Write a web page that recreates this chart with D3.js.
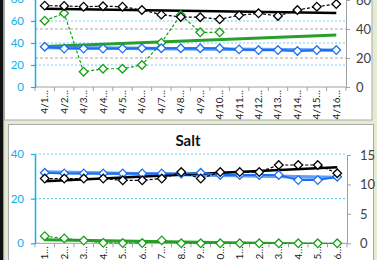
<!DOCTYPE html>
<html><head><meta charset="utf-8">
<script src="https://cdn.jsdelivr.net/npm/d3@7"></script>
<style>html,body{margin:0;padding:0;background:#e3ecd2;overflow:hidden}svg{display:block}</style>
</head><body><svg id="c" width="377" height="260"></svg>
<script>
// ---------- data ----------
const categories = ["4/1","4/2","4/3","4/4","4/5","4/6","4/7","4/8","4/9","4/10","4/11","4/12","4/13","4/14","4/15","4/16"];
const categoryLabels = ["4/1…","4/2…","4/3…","4/4…","4/5…","4/6…","4/7…","4/8…","4/9…","4/10…","4/11…","4/12…","4/13…","4/14…","4/15…","4/16…"];

// top chart (title cut off)
const topBlue  = [36.6,34.9,34.9,34.9,34.9,35.2,35.2,35.2,35.2,35.2,34.2,33.6,33.6,32.7,33.6,33.6]; // left axis
const topGreen = [60.3,67.0,13.9,16.6,16.6,20.0,40.3,65.5,49.7,49.7];                                 // left axis
const topBlack = [56.1,55.9,55.4,55.7,55.4,53.1,49.9,48.3,48.1,46.7,49.4,50.8,49.0,53.1,55.4,57.2];  // right axis
const topLeftTicks  = [0,20,40,60,80];
const topRightTicks = [0,20,40,60];

// bottom chart "Salt"
const saltTitle = "Salt";
const saltBlue  = [31.6,31.3,31.3,31.3,31.3,31.3,31.3,31.3,31.6,30.6,30.6,30.6,30.6,28.3,28.3,29.8]; // left axis
const saltBlack = [11.0,11.0,11.0,11.0,10.7,10.7,11.0,12.1,11.0,12.1,12.1,12.1,13.3,13.3,13.3,11.9]; // right axis
const saltGreen = [3.2,2.2,1.2,0.2,0.1,0.1,1.3,0,0,0,0,0,0,0,0,0];                                   // left axis
const saltLeftTicks  = [0,20,40];
const saltRightTicks = [0,5,10,15];

// ---------- style ----------
const FONT = "Lato, 'Open Sans', sans-serif";
const AXIS_BLUE = "#12aef0";
const GRID_BLUE = "#6ccdf5";
const BLUE = "#1b6ff2";
const GREEN = "#14a014";
const BLACK = "#000";

const svg = d3.select("#c");
svg.append("rect").attr("width",377).attr("height",260).attr("fill","#e3ecd2");
svg.append("rect").attr("x",0).attr("y",0).attr("width",3).attr("height",260).attr("fill","#111");
svg.append("rect").attr("x",3).attr("y",0).attr("width",1.2).attr("height",260).attr("fill","#9a9a9a");
// panels
svg.append("rect").attr("x",4.5).attr("y",-3).attr("width",367.5).attr("height",123)
  .attr("fill","#fff").attr("stroke","#a9a9a9").attr("stroke-width",1);
svg.append("rect").attr("x",8.5).attr("y",124.5).attr("width",365).attr("height",140)
  .attr("fill","#fff").attr("stroke","#a9a9a9").attr("stroke-width",1);

function linreg(vals){
  const n = vals.length, mx = (n-1)/2, my = d3.mean(vals);
  let sxy=0,sxx=0;
  vals.forEach((v,i)=>{sxy+=(i-mx)*(v-my);sxx+=(i-mx)*(i-mx);});
  const b = sxy/sxx; return [my-b*mx, b];
}
const diamond = r => `M0,${-r}L${r},0L0,${r}L${-r},0Z`;

function drawChart(cfg){
  const g = svg.append("g");
  const x = d3.scaleBand().domain(categories).range([cfg.left, cfg.right]);
  const cx = d => x(d) + x.bandwidth()/2;
  const yL = d3.scaleLinear().domain(cfg.leftDomain).range([cfg.bottom, cfg.top]);
  const yR = d3.scaleLinear().domain(cfg.rightDomain).range([cfg.bottom, cfg.rightTop]);

  const clipId = "clip"+cfg.id;
  svg.append("clipPath").attr("id",clipId).append("rect")
    .attr("x",cfg.left).attr("y",-5).attr("width",cfg.right-cfg.left).attr("height",cfg.bottom+0.5+5);

  // gridlines
  g.selectAll(".gb").data(cfg.leftGrid).join("line")
    .attr("x1",cfg.left).attr("x2",cfg.right).attr("y1",d=>yL(d)).attr("y2",d=>yL(d))
    .attr("stroke",GRID_BLUE).attr("stroke-width",1.2).attr("stroke-dasharray","2,2");
  g.selectAll(".gg").data(cfg.rightGrid).join("line")
    .attr("x1",cfg.left).attr("x2",cfg.right).attr("y1",d=>yR(d)).attr("y2",d=>yR(d))
    .attr("stroke","#a5a5a5").attr("stroke-width",1).attr("stroke-dasharray","3,2");

  // title
  if(cfg.title){
    g.append("text").attr("x",188).attr("y",145.5).attr("text-anchor","middle")
      .attr("font-family",FONT).attr("font-weight","bold").attr("font-size",15).attr("fill","#111")
      .text(cfg.title);
  }

  // x axis
  g.append("line").attr("x1",cfg.left).attr("x2",cfg.right).attr("y1",cfg.bottom).attr("y2",cfg.bottom)
    .attr("stroke","#a0a0a0").attr("stroke-width",1);
  const bounds = categories.map(c=>x(c)).concat([cfg.right]);
  g.selectAll(".xt").data(bounds).join("line")
    .attr("x1",d=>d).attr("x2",d=>d).attr("y1",cfg.bottom).attr("y2",cfg.bottom+4)
    .attr("stroke","#a0a0a0").attr("stroke-width",1);
  g.selectAll(".xl").data(categories).join("text")
    .attr("transform",d=>`translate(${cx(d)},${cfg.bottom+3}) rotate(-90)`)
    .attr("text-anchor","end").attr("dy","0.35em")
    .attr("font-family",FONT).attr("font-size",10).attr("fill","#1a1a1a")
    .text((d,i)=>categoryLabels[i]);

  // left axis
  const la = g.append("g").attr("transform",`translate(${cfg.left},0)`)
    .call(d3.axisLeft(yL).tickValues(cfg.leftTicks).tickSize(4).tickSizeOuter(0).tickPadding(7));
  la.select(".domain").attr("stroke",AXIS_BLUE).attr("stroke-width",1.5);
  la.selectAll(".tick line").attr("stroke",AXIS_BLUE).attr("stroke-width",1.2);
  la.selectAll(".tick text").attr("fill",AXIS_BLUE).attr("font-family",FONT).attr("font-size",11.5);

  // right axis
  const ra = g.append("g").attr("transform",`translate(${cfg.right},0)`)
    .call(d3.axisRight(yR).tickValues(cfg.rightTicks).tickSize(4).tickSizeOuter(0).tickPadding(cfg.rightPad));
  ra.select(".domain").attr("stroke","#a0a0a0").attr("stroke-width",1);
  ra.selectAll(".tick line").attr("stroke","#a0a0a0");
  ra.selectAll(".tick text").attr("fill","#404040").attr("font-family",FONT).attr("font-size",13);

  const plot = g.append("g").attr("clip-path",`url(#${clipId})`);
  const trendLayer = plot.append("g");
  const seriesLayer = g.append("g");

  cfg.series.forEach(s=>{
    const y = s.axis==="right" ? yR : yL;
    const [a,b] = linreg(s.values);
    const last = categories.length-1;
    trendLayer.append("line")
      .attr("x1",cx(categories[0])).attr("y1",y(a))
      .attr("x2",cx(categories[last])).attr("y2",y(a+b*last))
      .attr("stroke",s.trend).attr("stroke-width",s.trendWidth).attr("stroke-linecap","butt")
      .attr("opacity",s.trendOpacity);
  });
  cfg.series.forEach(s=>{
    const y = s.axis==="right" ? yR : yL;
    const pts = s.values.map((v,i)=>[cx(categories[i]), y(v)]);
    seriesLayer.append("path").attr("d",d3.line()(pts)).attr("fill","none")
      .attr("stroke",s.color).attr("stroke-width",s.width).attr("stroke-dasharray",s.dash||null);
    seriesLayer.selectAll(null).data(pts).join("path")
      .attr("transform",p=>`translate(${p[0]},${p[1]})`).attr("d",diamond(4.3))
      .attr("fill","#fff").attr("stroke",s.color).attr("stroke-width",1.3);
  });
}

drawChart({
  id:"top", left:35, right:346, top:-1, rightTop:0, bottom:87,
  leftDomain:[0,80], rightDomain:[0,60],
  leftTicks:topLeftTicks, rightTicks:topRightTicks,
  leftGrid:[20,40,60], rightGrid:[20,40], rightPad:6,
  series:[
    {values:topGreen, axis:"left", color:GREEN, width:1.2, dash:"3,2", trend:"#1f9a1f", trendWidth:3, trendOpacity:0.95},
    {values:topBlue, axis:"left", color:BLUE, width:2, trend:"#3b86f5", trendWidth:3.5, trendOpacity:0.8},
    {values:topBlack, axis:"right", color:BLACK, width:1.2, dash:"3,2", trend:"#000", trendWidth:2.5, trendOpacity:1}
  ]
});

drawChart({
  id:"salt", title:saltTitle, left:35, right:347, top:154, rightTop:155, bottom:243.3,
  leftDomain:[0,40], rightDomain:[0,15],
  leftTicks:saltLeftTicks, rightTicks:saltRightTicks,
  leftGrid:[20,40], rightGrid:[], rightPad:9,
  series:[
    {values:saltGreen, axis:"left", color:GREEN, width:1.2, dash:"3,2", trend:"#1f9a1f", trendWidth:3, trendOpacity:0.95},
    {values:saltBlue, axis:"left", color:BLUE, width:2, trend:"#3b86f5", trendWidth:3.5, trendOpacity:0.8},
    {values:saltBlack, axis:"right", color:BLACK, width:1.2, dash:"3,2", trend:"#000", trendWidth:2.5, trendOpacity:1}
  ]
});
</script></body></html>
